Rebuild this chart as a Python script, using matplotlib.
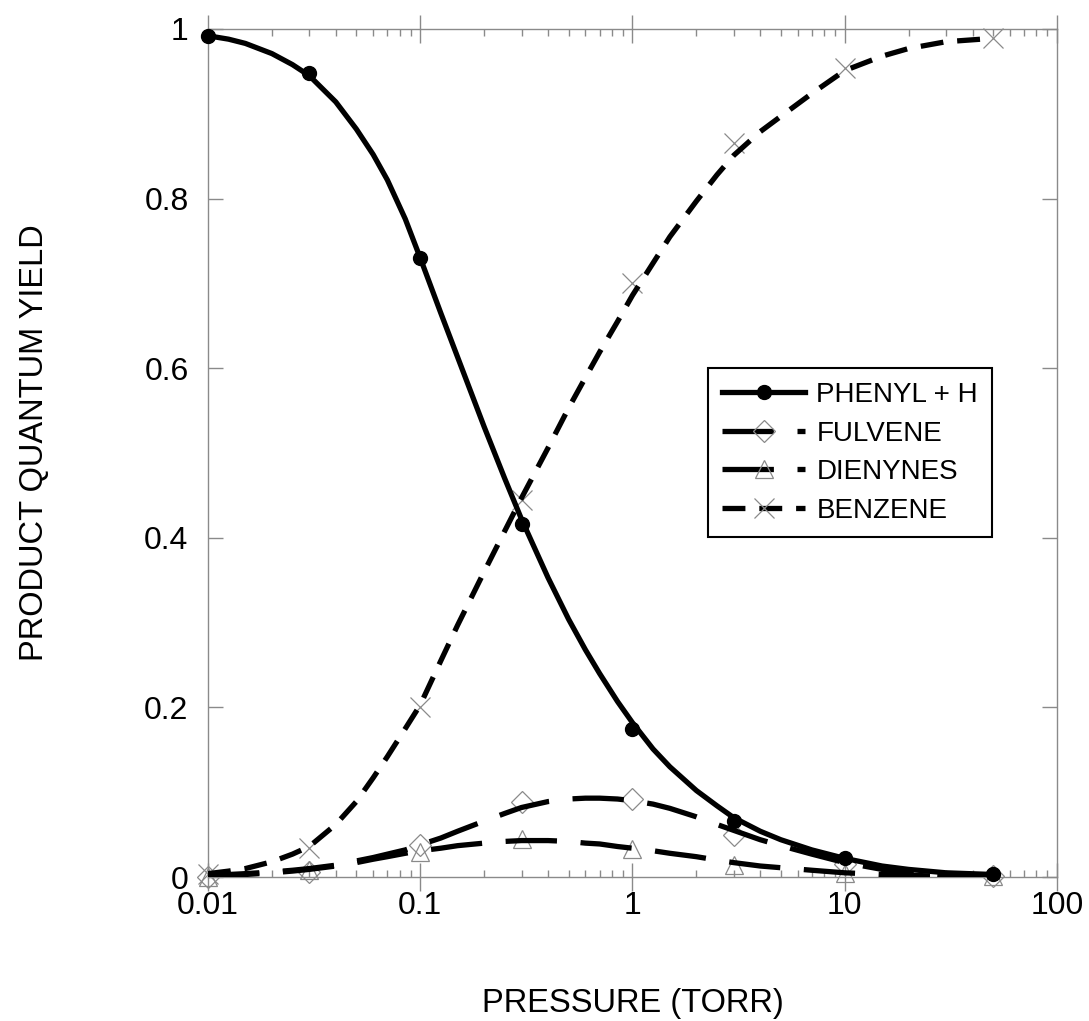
import matplotlib
matplotlib.use("Agg")
import matplotlib.pyplot as plt
from matplotlib.lines import Line2D
from matplotlib.ticker import LogLocator, FixedLocator, FixedFormatter, NullFormatter

plt.rcParams['font.family'] = ['Liberation Sans', 'DejaVu Sans']
plt.rcParams['lines.scale_dashes'] = False

# measured yields at each pressure (torr)
pressure = [0.01, 0.03, 0.1, 0.3, 1, 3, 10, 50]
phenyl_h = [0.992, 0.948, 0.730, 0.416, 0.174, 0.066, 0.022, 0.004]
fulvene = [0.0, 0.006, 0.038, 0.088, 0.092, 0.050, 0.015, 0.001]
dienynes = [0.0, 0.008, 0.030, 0.045, 0.033, 0.014, 0.005, 0.001]
benzene = [0.003, 0.034, 0.200, 0.445, 0.700, 0.865, 0.954, 0.989]

# model curves
fit_pressure = [0.01, 0.0125, 0.015, 0.02, 0.025, 0.03, 0.04, 0.05, 0.06, 0.07, 0.085,
                0.1, 0.125, 0.15, 0.2, 0.25, 0.3, 0.4, 0.5, 0.6, 0.7, 0.85,
                1, 1.25, 1.5, 2, 2.5, 3, 4, 5, 7, 10, 15, 20, 30, 50]
fit_phenyl_h = [0.992, 0.988, 0.983, 0.971, 0.958, 0.945, 0.914, 0.882, 0.852, 0.822, 0.776,
                0.730, 0.665, 0.613, 0.531, 0.470, 0.422, 0.353, 0.304, 0.268, 0.240, 0.207,
                0.182, 0.151, 0.130, 0.102, 0.084, 0.070, 0.054, 0.044, 0.032, 0.022,
                0.013, 0.009, 0.005, 0.003]
fit_fulvene = [0.002, 0.003, 0.004, 0.006, 0.008, 0.010, 0.014, 0.019, 0.023, 0.027, 0.032,
               0.038, 0.046, 0.054, 0.066, 0.075, 0.082, 0.089, 0.092, 0.093, 0.093, 0.092,
               0.090, 0.086, 0.081, 0.071, 0.062, 0.055, 0.044, 0.037, 0.027, 0.017,
               0.009, 0.005, 0.002, 0.0]
fit_dienynes = [0.001, 0.002, 0.003, 0.005, 0.007, 0.009, 0.013, 0.017, 0.021, 0.024, 0.028,
                0.031, 0.034, 0.037, 0.040, 0.042, 0.043, 0.043, 0.042, 0.040, 0.039, 0.036,
                0.034, 0.031, 0.028, 0.024, 0.020, 0.017, 0.013, 0.011, 0.008, 0.005,
                0.003, 0.002, 0.001, 0.0]
fit_benzene = [0.004, 0.007, 0.010, 0.018, 0.027, 0.036, 0.062, 0.089, 0.117, 0.142, 0.175,
               0.203, 0.255, 0.297, 0.360, 0.408, 0.447, 0.506, 0.553, 0.589, 0.619, 0.655,
               0.686, 0.724, 0.755, 0.797, 0.828, 0.851, 0.879, 0.897, 0.924, 0.951,
               0.968, 0.977, 0.985, 0.989]

labels = ['PHENYL + H', 'FULVENE', 'DIENYNES', 'BENZENE']
y_ticks = [0, 0.2, 0.4, 0.6, 0.8, 1]
y_tick_labels = ['0', '0.2', '0.4', '0.6', '0.8', '1']
x_ticks = [0.01, 0.1, 1, 10, 100]
x_tick_labels = ['0.01', '0.1', '1', '10', '100']

LW = 3.8
LONG_DASH = (0, (37, 17))
SHORT_DASH = (0, (16.5, 10))
GRAY = '#8a8a8a'

fig = plt.figure(figsize=(10.89, 10.21), dpi=100)
ax = fig.add_axes([0.191, 0.141, 0.7796, 0.8306])

# fitted curves
ax.plot(fit_pressure, fit_phenyl_h, color='black', lw=LW, zorder=3)
ax.plot(fit_pressure, fit_fulvene, color='black', lw=LW, ls=LONG_DASH, zorder=3)
ax.plot(fit_pressure, fit_dienynes, color='black', lw=LW, ls=LONG_DASH, zorder=3)
ax.plot(fit_pressure, fit_benzene, color='black', lw=LW, ls=SHORT_DASH, zorder=3)

# data points
ax.plot(pressure, phenyl_h, ls='none', marker='o', ms=10, color='black',
        zorder=4, clip_on=False)
ax.plot(pressure, fulvene, ls='none', marker='D', ms=11, mfc='none', mec=GRAY,
        mew=0.9, zorder=2, clip_on=False)
ax.plot(pressure, dienynes, ls='none', marker='^', ms=13, mfc='none', mec=GRAY,
        mew=0.9, zorder=2, clip_on=False)
ax.plot(pressure, benzene, ls='none', marker='x', ms=15, mec=GRAY,
        mew=0.9, zorder=2, clip_on=False)

ax.set_xscale('log')
ax.set_xlim(0.01, 100)
ax.set_ylim(0, 1)

ax.xaxis.set_major_locator(FixedLocator(x_ticks))
ax.xaxis.set_major_formatter(FixedFormatter(x_tick_labels))
ax.xaxis.set_minor_locator(LogLocator(base=10, subs=range(2, 10)))
ax.xaxis.set_minor_formatter(NullFormatter())
ax.yaxis.set_major_locator(FixedLocator(y_ticks))
ax.yaxis.set_major_formatter(FixedFormatter(y_tick_labels))

for side in ['left', 'right', 'top', 'bottom']:
    ax.spines[side].set_color(GRAY)
    ax.spines[side].set_linewidth(1.0)

ax.tick_params(axis='x', which='major', direction='inout', length=20, width=1,
               color=GRAY, top=True, bottom=True, labelsize=23, pad=0)
ax.tick_params(axis='x', which='minor', direction='in', length=5, width=1,
               color=GRAY, top=True, bottom=True)
ax.tick_params(axis='y', which='major', direction='in', length=11, width=1,
               color=GRAY, left=True, right=True, labelsize=23, pad=14)

ax.set_xlabel('PRESSURE (TORR)', fontsize=23.5, va='center')
ax.xaxis.set_label_coords(0.5, -0.149)
ax.set_ylabel('PRODUCT QUANTUM YIELD', fontsize=23.5, va='center')
ax.yaxis.set_label_coords(-0.204, 0.512)

handles = [
    Line2D([], [], color='black', lw=LW, marker='o', ms=10),
    Line2D([], [], color='black', lw=LW, ls=LONG_DASH, marker='D', ms=11,
           mfc='none', mec=GRAY, mew=0.9),
    Line2D([], [], color='black', lw=LW, ls=LONG_DASH, marker='^', ms=13,
           mfc='none', mec=GRAY, mew=0.9),
    Line2D([], [], color='black', lw=LW, ls=SHORT_DASH, marker='x', ms=15,
           mec=GRAY, mew=0.9),
]
leg = ax.legend(handles, labels, loc='upper left', bbox_to_anchor=(0.589, 0.600),
                borderaxespad=0, fontsize=20, handlelength=3.0, handletextpad=0.4,
                labelspacing=0.45, fancybox=False, framealpha=1, numpoints=1,
                borderpad=0.5)
leg.get_frame().set_edgecolor('black')
leg.get_frame().set_linewidth(1.5)

fig.savefig('out.png', dpi=100)
